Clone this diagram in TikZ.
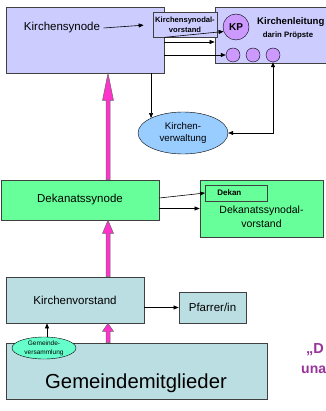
\documentclass[tikz,border=0pt]{standalone}
\usepackage{fontspec}
\setmainfont{Liberation Sans}
\usetikzlibrary{arrows.meta,calc,shapes.geometric}
\definecolor{synlila}{HTML}{CCCCFF}
\definecolor{kplila}{HTML}{CC99FF}
\definecolor{verwblau}{HTML}{99CCFF}
\definecolor{dkgruen}{HTML}{66FF99}
\definecolor{kvtuerkis}{HTML}{BBDEE2}
\definecolor{gvgruen}{HTML}{66FFCC}
\definecolor{pinkmag}{HTML}{FF33CC}
\definecolor{lilatext}{HTML}{993399}
\tikzset{
  box/.style={draw=black!75, line width=0.7pt, inner sep=0pt},
  arr/.style={-{Triangle[length=5pt,width=4pt]}, line width=0.6pt},
  arrboth/.style={{Triangle[length=5pt,width=4pt]}-{Triangle[length=5pt,width=4pt]}, line width=0.6pt},
  fat/.style={fill=pinkmag, draw=black!60, line width=0.5pt},
  txt/.style={font=\fontsize{11.5}{13}\selectfont}
}
\newcommand{\fatarrow}[3]{\path[fat] let \p1=(#1), \p2=(#2) in
  (\x1-2pt,\y1) -- (\x1-2pt,\y2-#3) -- (\x1-5.5pt,\y2-#3) -- (\x1,\y2)
  -- (\x1+5.5pt,\y2-#3) -- (\x1+2pt,\y2-#3) -- (\x1+2pt,\y1) -- cycle;}
\begin{document}
\begin{tikzpicture}[x=1pt, y=-1pt]
\path[use as bounding box, fill=white] (0,0) rectangle (325,411);
\coordinate (spine) at (108,0);
\node[box, fill=synlila, minimum width=158pt, minimum height=66pt] (synode) at (85,40) {};
\node[txt] (synlabel) at (62,28) {Kirchensynode};
\node[box, fill=synlila, minimum width=115pt, minimum height=56pt] (leitung) at (272.5,35) {};
\node[box, fill=synlila, minimum width=64pt, minimum height=25pt, align=center,
  font=\bfseries\fontsize{7.6}{10}\selectfont] (synvorstand) at (185,24.5) {Kirchensynodal-\\vorstand};
\node[font=\bfseries\fontsize{9.6}{12}\selectfont, anchor=west, inner sep=0pt] at (257,22) {Kirchenleitung};
\node[font=\bfseries\fontsize{7.8}{9}\selectfont] at (288,35) {darin Pröpste};
\node[circle, draw, fill=kplila, minimum size=26pt, inner sep=0pt,
  font=\bfseries\fontsize{10}{12}\selectfont] (kp) at (236,27) {KP};
\foreach \i/\x in {1/233,2/253,3/273}
  \node[circle, draw, fill=kplila, minimum size=14pt, inner sep=0pt] (p\i) at (\x,55) {};
\node[ellipse, draw, fill=verwblau, minimum width=90pt, minimum height=42pt, inner sep=0pt,
  align=center, font=\fontsize{9.7}{12.5}\selectfont] (verwaltung) at (183,133) {Kirchen-\\verwaltung};

\node[box, fill=dkgruen, minimum width=158pt, minimum height=40pt, txt] (dksynode) at (80,200) {Dekanatssynode};
\node[box, fill=dkgruen, minimum width=123pt, minimum height=57pt] (dkvorstand) at (261.5,208.5) {};
\node[align=center, font=\fontsize{10.5}{14}\selectfont] at (261.5,217) {Dekanatssynodal-\\vorstand};
\node[box, fill=dkgruen, minimum height=16pt, text width=38pt, inner xsep=12pt, align=left,
  anchor=west, font=\bfseries\fontsize{8}{10}\selectfont] (dekan) at (205,193) {Dekan};

\node[box, fill=kvtuerkis, minimum width=138pt, minimum height=46pt, txt] (kvorstand) at (75,300) {Kirchenvorstand};
\node[box, fill=kvtuerkis, minimum width=67pt, minimum height=31pt, txt] (pfarrer) at (212.5,307.5) {Pfarrer/in};
\node[box, fill=kvtuerkis, minimum width=261pt, minimum height=56pt] (gemeinde) at (136.5,371) {};
\node[font=\fontsize{20.3}{24}\selectfont] at (136,383) {Gemeindemitglieder};
\node[ellipse, draw, fill=gvgruen, minimum width=64pt, minimum height=22pt, inner sep=0pt,
  align=center, font=\fontsize{6.5}{9}\selectfont] (gversammlung) at (44,348) {Gemeinde-\\versammlung};

\node[font=\bfseries\fontsize{14.5}{16}\selectfont, text=lilatext, anchor=base west, inner sep=0pt] at (306,353) {„D};
\node[font=\bfseries\fontsize{14}{16}\selectfont, text=lilatext, anchor=base west, inner sep=0pt] at (301,373) {una};

\draw[arr, shorten >=9pt] (synlabel.east) -- (synvorstand.west);
\draw[arr] (synode.east |- synvorstand.south) -- (kp.200);
\draw[arr] (synode.east |- 0,42) -- (leitung.west |- 0,42);
\draw[arr] (synode.east |- p1.west) -- (p1.west);
\draw[arr] (synode.south -| verwaltung.north west) -- (verwaltung.north west);
\draw[arrboth] (verwaltung.east) -| (p3.south);
\draw[arr] ([yshift=2pt]dksynode.east) -- (dekan.west);
\draw[arr] (dksynode.east |- dkvorstand.west) -- (dkvorstand.west);
\draw[arr] (kvorstand.east |- pfarrer.west) -- (pfarrer.west);
\draw[arr] (gversammlung.75) -- (gversammlung.75 |- kvorstand.south);

\fatarrow{dksynode.north -| spine}{synode.south -| spine}{27pt}
\fatarrow{kvorstand.north -| spine}{dksynode.south -| spine}{13pt}
\fatarrow{gemeinde.north -| spine}{kvorstand.south -| spine}{8pt}
\end{tikzpicture}
\end{document}
